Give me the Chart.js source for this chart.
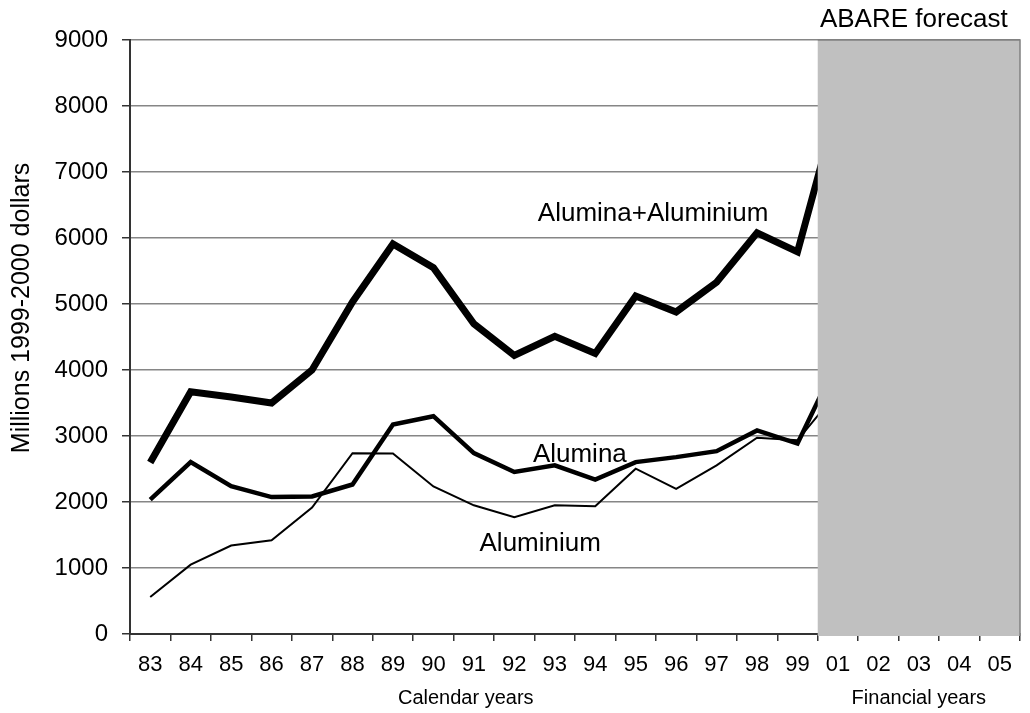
<!DOCTYPE html>
<html>
<head>
<meta charset="utf-8">
<script src="https://cdn.jsdelivr.net/npm/chart.js@4.4.1/dist/chart.umd.min.js"></script>
<style>
  html, body { margin: 0; padding: 0; background: #fff; }
  #wrap { width: 1030px; height: 713px; }
</style>
</head>
<body>
<div id="wrap"><canvas id="chart" width="1030" height="713"></canvas></div>
<script>
// categories: calendar years then financial years (forecast)
const years = ['83','84','85','86','87','88','89','90','91','92','93','94','95','96','97','98','99','01','02','03','04','05'];
const forecastYears = ['01','02','03','04','05'];

// values, millions of 1999-2000 dollars
const combined  = [2600,3670,3590,3500,4000,5030,5910,5550,4700,4220,4510,4250,5120,4880,5330,6080,5790,8040,null,null,null,null];
const alumina   = [2035,2605,2240,2075,2085,2265,3175,3300,2740,2455,2555,2340,2605,2680,2770,3085,2885,4160,null,null,null,null];
const aluminium = [ 560,1050,1340,1420,1915,2740,2735,2235,1950,1770,1950,1935,2505,2200,2555,2975,2935,3680,null,null,null,null];

const yTicks = [0,1000,2000,3000,4000,5000,6000,7000,8000,9000];

const FONT = "'Liberation Sans', Arial, sans-serif";
Chart.defaults.font.family = FONT;
Chart.defaults.color = '#000';

// grey forecast box, drawn over the lines, plus the texts on the chart
const overlay = {
  id: 'overlay',
  afterDatasetsDraw(chart) {
    const { ctx, chartArea, scales } = chart;
    const x = scales.x, y = scales.y;
    const band = x.getPixelForValue(1) - x.getPixelForValue(0);
    const left = x.getPixelForValue(years.indexOf(forecastYears[0])) - band / 2;
    const right = chartArea.right;
    ctx.save();
    ctx.fillStyle = '#c0c0c0';
    ctx.fillRect(left, chartArea.top, right - left, chartArea.bottom - chartArea.top + 2);
    ctx.strokeStyle = '#808080';
    ctx.lineWidth = 1.5;
    ctx.beginPath();
    ctx.moveTo(left, chartArea.top);
    ctx.lineTo(right, chartArea.top);
    ctx.lineTo(right, chartArea.bottom + 2);
    ctx.stroke();

    ctx.fillStyle = '#000';
    ctx.font = '26px ' + FONT;
    ctx.textBaseline = 'alphabetic';
    ctx.textAlign = 'center';
    ctx.fillText('ABARE forecast', (left + right) / 2 - 5, 27);

    // series names
    ctx.textBaseline = 'middle';
    ctx.fillText('Alumina+Aluminium', x.getPixelForValue(12.43), y.getPixelForValue(6360));
    ctx.fillText('Alumina', x.getPixelForValue(10.62), y.getPixelForValue(2710));
    ctx.fillText('Aluminium', x.getPixelForValue(9.64), y.getPixelForValue(1360));

    // axis titles under the two groups of years
    ctx.font = '20px ' + FONT;
    ctx.fillText('Calendar years', x.getPixelForValue(7.8), 698);
    ctx.fillText('Financial years', x.getPixelForValue(19), 698);

    // y axis title, sits a bit above the middle of the axis
    ctx.font = '25px ' + FONT;
    ctx.translate(22, y.getPixelForValue(4940));
    ctx.rotate(-Math.PI / 2);
    ctx.fillText('Millions 1999-2000 dollars', 0, 0);
    ctx.restore();
  }
};

new Chart(document.getElementById('chart'), {
  type: 'line',
  data: {
    labels: years,
    datasets: [
      { label: 'Alumina+Aluminium', data: combined, borderColor: '#000', borderWidth: 7, pointRadius: 0 },
      { label: 'Alumina', data: alumina, borderColor: '#000', borderWidth: 4.5, pointRadius: 0 },
      { label: 'Aluminium', data: aluminium, borderColor: '#000', borderWidth: 2, pointRadius: 0 }
    ]
  },
  options: {
    responsive: false,
    animation: false,
    layout: { padding: { top: 40, right: 10, left: 0, bottom: 0 } },
    plugins: {
      legend: { display: false },
      tooltip: { enabled: false }
    },
    elements: { line: { tension: 0, borderCapStyle: 'butt', borderJoinStyle: 'miter' } },
    scales: {
      x: {
        offset: true,
        grid: { offset: true, drawOnChartArea: false, drawTicks: true, tickLength: 7, tickColor: '#333', lineWidth: 1.5 },
        border: { color: '#333', width: 2 },
        ticks: { font: { size: 22 }, padding: 11, maxRotation: 0, autoSkip: false },
        afterFit: s => { s.height = 79; }
      },
      y: {
        min: 0,
        max: 9000,
        afterBuildTicks: s => { s.ticks = yTicks.map(v => ({ value: v })); },
        grid: { color: '#868686', lineWidth: 1.5, tickLength: 8, tickColor: '#333' },
        border: { color: '#333', width: 2 },
        ticks: { font: { size: 24 }, padding: 14, callback: v => String(v) },
        afterFit: s => { s.width = 130; }
      }
    }
  },
  plugins: [overlay]
});
</script>
</body>
</html>
